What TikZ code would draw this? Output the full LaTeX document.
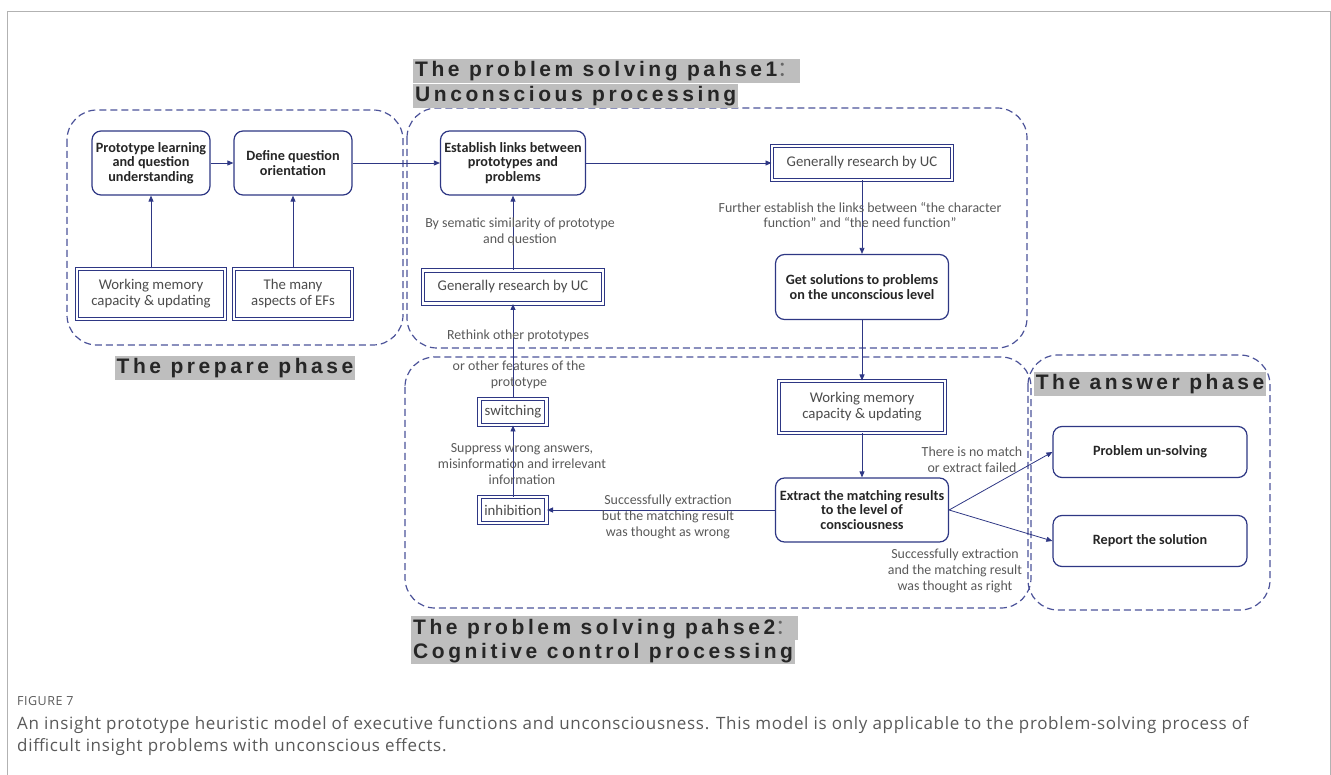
\documentclass[tikz,border=0pt]{standalone}
\usepackage{fontspec}
\setmainfont{Carlito}
\newfontfamily\bannerfont[LetterSpace=17]{Liberation Sans}
\newfontfamily\captionfont[LetterSpace=4.0]{Open Sans}
\newfontfamily\cjk{Noto Sans CJK SC}
\usetikzlibrary{positioning, arrows.meta, calc}

\definecolor{ink}{HTML}{2E3784}
\definecolor{dashink}{HTML}{4C5399}
\definecolor{bannergray}{HTML}{BEBEBE}

\tikzset{
    proc/.style={draw=ink, line width=1.2pt, rounded corners=9pt, fill=white, align=center,
        text=black!85, font=\bfseries\fontsize{14.2}{14.5}\selectfont, inner sep=2pt},
    twin/.style={draw=ink, line width=1pt, double, double distance=2.6pt, fill=white,
        align=center, text=black!70, font=\fontsize{14.8}{16}\selectfont, inner sep=2pt},
    note/.style={text=black!65, align=center, font=\fontsize{13.9}{15.8}\selectfont},
    banner/.style={fill=bannergray, text=black!85, inner xsep=2pt, inner ysep=0pt,
        text height=18pt, text depth=6pt, font=\bannerfont\bfseries\fontsize{21}{25}\selectfont},
    phase/.style={draw=dashink, line width=1.2pt, dash pattern=on 7pt off 4pt, rounded corners=30pt},
    flow/.style={draw=ink, line width=0.8pt, -{Triangle[length=6pt, width=5pt]}},
}
\def\wide{{\cjk\mdseries\color{black!60}：}}

\begin{document}
\begin{tikzpicture}[x=1pt, y=-1pt]
    \useasboundingbox (0,0) rectangle (1331,775);

    % frame of the figure
    \draw[black!30, line width=1pt] (7,790) -- (7,12) -- (1330,12) -- (1330,790);

    % phases
    \foreach \xa/\ya/\xb/\yb in {
        67/110/403/345,
        407/108/1027/348,
        405/357/1031/608,
        1028/355/1270/610}
    {
        \draw[phase] (\xa,\ya) rectangle (\xb,\yb);
    }

    % phase titles
    \node[banner, anchor=west] (t1a) at (413,71) {The problem solving pahse1\wide};
    \node[banner, anchor=west] (t1b) at (413,96) {Unconscious processing};
    \node[banner, anchor=west] (t2a) at (411,628) {The problem solving pahse2\wide};
    \node[banner, anchor=west] (t2b) at (411,652) {Cognitive control processing};
    \node[banner] (tprep) at (235,368) {The prepare phase};
    \node[banner] (tans) at (1150,384) {The answer phase};

    % prepare phase
    \node[proc, minimum width=118pt, minimum height=64pt] (proto) at (151,163)
        {Prototype learning\\and question\\understanding};
    \node[proc, minimum width=118pt, minimum height=64pt] (define) at (293,163)
        {Define question\\orientation};
    \node[twin, minimum width=148pt, minimum height=50pt] (wmA) at (151,294)
        {Working memory\\capacity \& updating};
    \node[twin, minimum width=118pt, minimum height=50pt] (efs) at (293,294)
        {The many\\aspects of EFs};

    % phase 1
    \node[proc, minimum width=145pt, minimum height=64pt] (links) at (513,163)
        {Establish links between\\prototypes and\\problems};
    \node[twin, minimum width=180pt, minimum height=34pt] (ucR) at (862,163)
        {Generally research by UC};
    \node[twin, minimum width=180pt, minimum height=33pt] (ucL) at (513,287)
        {Generally research by UC};
    \node[proc, minimum width=173pt, minimum height=65pt] (sols) at (862,287)
        {Get solutions to problems\\on the unconscious level};

    % phase 2
    \node[twin, minimum width=67pt, minimum height=26pt] (switch) at (513,412) {switching};
    \node[twin, minimum width=67pt, minimum height=26pt] (inhib) at (513,510) {inhibition};
    \node[twin, minimum width=166pt, minimum height=52pt] (wmB) at (862,407)
        {Working memory\\capacity \& updating};
    \node[proc, minimum width=173pt, minimum height=64pt] (extract) at (862,510)
        {Extract the matching results\\to the level of\\consciousness};

    % answer phase
    \node[proc, minimum width=194pt, minimum height=51pt] (unsolved) at (1150,452)
        {Problem un-solving};
    \node[proc, minimum width=194pt, minimum height=51pt] (report) at (1150,541)
        {Report the solution};

    % connectors
    \foreach \from/\to in {
        proto/define, wmA/proto, efs/define, define/links,
        links/ucR, ucR/sols, ucL/links, switch/ucL, inhib/switch,
        sols/wmB, wmB/extract, extract/inhib,
        extract.east/unsolved.west, extract.east/report.west}
    {
        \draw[flow] (\from) -- (\to);
    }

    % connector texts
    \node[note] (n1) at (520,232) {By sematic similarity of prototype\\and question};
    \node[note] (n2) at (860,215)
        {Further establish the links between “the character\\function” and “the need function”};
    \node[note] (n3) at (518,336) {Rethink other prototypes};
    \node[note] (n4) at (519,375) {or other features of the\\prototype};
    \node[note] (n5) at (522,464) {Suppress wrong answers,\\misinformation and irrelevant\\information};
    \node[note] (n6) at (668,517) {Successfully extraction\\but the matching result\\was thought as wrong};
    \node[note] (n7) at (972,460) {There is no match\\or extract failed};
    \node[note] (n8) at (955,571) {Successfully extraction\\and the matching result\\was thought as right};

    % caption
    \node[anchor=base west, inner sep=0pt, text=black!65,
        font=\captionfont\fontsize{12.5}{14}\selectfont] (fig) at (17,705) {FIGURE 7};
    \node[anchor=base west, inner sep=0pt, text=black!65,
        font=\captionfont\fontsize{17}{22}\selectfont] (cap1) at (17,729)
        {An insight prototype heuristic model of executive functions and unconsciousness. This model is only applicable to the problem-solving process of};
    \node[anchor=base west, inner sep=0pt, text=black!65,
        font=\captionfont\fontsize{17}{22}\selectfont] (cap2) at (17,751)
        {difficult insight problems with unconscious effects.};
\end{tikzpicture}
\end{document}
